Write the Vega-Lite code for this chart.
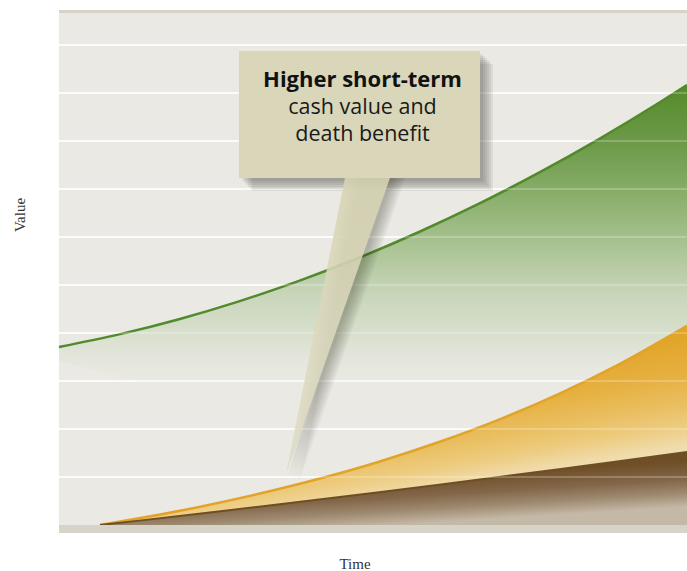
{
"$schema": "https://vega.github.io/schema/vega-lite/v6.json",
"width": 628, "height": 523,
"autosize": {"type": "none"},
"padding": {"left": 59, "top": 10, "right": 0, "bottom": 38},
"background": "white",
"config": {"view": {"fill": "#eae9e4", "stroke": null}},
"datasets": {
"green": [
{"t":0,"v":3.708,"low":3.417},{"t":3,"v":3.971,"low":3.090},{"t":6,"v":4.288,"low":2.764},{"t":9,"v":4.660,"low":2.438},{"t":12,"v":5.085,"low":2.111},{"t":15,"v":5.567,"low":1.785},{"t":18,"v":6.104,"low":1.458},{"t":21,"v":6.694,"low":1.132},{"t":24,"v":7.340,"low":0.805},{"t":27,"v":8.040,"low":0.479},{"t":30,"v":8.796,"low":0.152},{"t":31.4,"v":9.167,"low":0}
],
"orange": [
{"t":2.05,"v":0},{"t":4,"v":0.139},{"t":7,"v":0.377},{"t":10,"v":0.650},{"t":13,"v":0.962},{"t":16,"v":1.319},{"t":19,"v":1.729},{"t":22,"v":2.196},{"t":25,"v":2.732},{"t":28,"v":3.346},{"t":31.4,"v":4.148}
],
"brown": [
{"t":2.05,"v":0},{"t":4,"v":0.091},{"t":7,"v":0.234},{"t":10,"v":0.380},{"t":13,"v":0.530},{"t":16,"v":0.683},{"t":19,"v":0.839},{"t":22,"v":0.999},{"t":25,"v":1.162},{"t":28,"v":1.328},{"t":31.4,"v":1.521}
],
"grid": [{"v":1},{"v":2},{"v":3},{"v":4},{"v":5},{"v":6},{"v":7},{"v":8},{"v":9},{"v":10}],
"box": [{"t":9.0,"t2":21.05,"v":7.229,"v2":9.875}],
"pointer": [{"v":7.4,"t":14.38,"t2":16.69},{"v":1.0625,"t":11.35,"t2":11.35}],
"title": [{"t":15.175,"v":9.125,"label":"Higher short-term"}],
"body": [{"t":15.175,"v":8.5625,"label":"cash value and"},{"t":15.175,"v":8.0,"label":"death benefit"}],
"xtitle": [{"t":14.8,"v":-0.9167,"label":"Time"}],
"ytitle": [{"t":-1.95,"v":6.458,"label":"Value"}],
"bottomband": [{"v":0,"v2":-0.1667}],
"topband": [{"v":10.729,"v2":10.667}]
},
"layer": [
{"data":{"name":"grid"},"mark":{"type":"rule","color":"#ffffff","strokeWidth":1.5},
 "encoding":{"y":{"field":"v","type":"quantitative","scale":{"domain":[-0.1667,10.729],"nice":false,"zero":false},"axis":null}}},
{"data":{"name":"green"},
 "mark":{"type":"area","interpolate":"monotone","fill":{"gradient":"linear","x1":0,"y1":0,"x2":0,"y2":1,"stops":[{"offset":0,"color":"#558a2b"},{"offset":0.14,"color":"#6e9b4a"},{"offset":0.26,"color":"#8cb06e"},{"offset":0.37,"color":"#abc495"},{"offset":0.48,"color":"#c9d6bb"},{"offset":0.58,"color":"#dbe1d0"},{"offset":0.7,"color":"rgba(234,233,228,0)"},{"offset":1,"color":"rgba(234,233,228,0)"}]}},
 "encoding":{
  "x":{"field":"t","type":"quantitative","scale":{"domain":[0,31.4],"nice":false,"zero":false},"axis":null},
  "y":{"field":"v","type":"quantitative","scale":{"domain":[-0.1667,10.729],"nice":false,"zero":false},"axis":null},
  "y2":{"field":"low"}}},
{"data":{"name":"green"},"mark":{"type":"line","interpolate":"monotone","color":"#528a2b","strokeWidth":2.5},
 "encoding":{"x":{"field":"t","type":"quantitative","axis":null},"y":{"field":"v","type":"quantitative","axis":null}}},
{"data":{"name":"orange"},
 "mark":{"type":"area","interpolate":"monotone","fill":{"gradient":"linear","x1":0,"y1":0,"x2":0.5,"y2":1,"stops":[{"offset":0,"color":"#e1a226"},{"offset":0.45,"color":"#e2a52b"},{"offset":0.6,"color":"#e6b142"},{"offset":0.72,"color":"#eac064"},{"offset":0.8,"color":"#edcc80"},{"offset":0.87,"color":"#f0daa8"},{"offset":1,"color":"#efe8d8"}]}},
 "encoding":{"x":{"field":"t","type":"quantitative","axis":null},"y":{"field":"v","type":"quantitative","axis":null},"y2":{"datum":0}}},
{"data":{"name":"orange"},"mark":{"type":"line","interpolate":"monotone","color":"#e2a428","strokeWidth":2.5},
 "encoding":{"x":{"field":"t","type":"quantitative","axis":null},"y":{"field":"v","type":"quantitative","axis":null}}},
{"data":{"name":"brown"},
 "mark":{"type":"area","interpolate":"monotone","fill":{"gradient":"linear","x1":0,"y1":0,"x2":0.5,"y2":1,"stops":[{"offset":0,"color":"#6a4b21"},{"offset":0.5,"color":"#6e4f27"},{"offset":0.7,"color":"#84674a"},{"offset":0.85,"color":"#9e8a70"},{"offset":1,"color":"#c4b8a6"}]}},
 "encoding":{"x":{"field":"t","type":"quantitative","axis":null},"y":{"field":"v","type":"quantitative","axis":null},"y2":{"datum":0}}},
{"data":{"name":"brown"},"mark":{"type":"line","interpolate":"monotone","color":"#6e4e23","strokeWidth":2},
 "encoding":{"x":{"field":"t","type":"quantitative","axis":null},"y":{"field":"v","type":"quantitative","axis":null}}},
{"data":{"name":"grid"},"mark":{"type":"rule","color":"#ffffff","strokeWidth":1.5,"opacity":0.3},
 "encoding":{"y":{"field":"v","type":"quantitative","axis":null}}},
{"data":{"name":"box"},"mark":{"type":"rect","color":"#2e2e28","opacity":0.08,"xOffset":3,"x2Offset":3,"yOffset":3,"y2Offset":3},
 "encoding":{"x":{"field":"t","type":"quantitative","axis":null},"x2":{"field":"t2"},"y":{"field":"v","type":"quantitative","axis":null},"y2":{"field":"v2"}}},
{"data":{"name":"box"},"mark":{"type":"rect","color":"#2e2e28","opacity":0.08,"xOffset":5,"x2Offset":5,"yOffset":5,"y2Offset":5},
 "encoding":{"x":{"field":"t","type":"quantitative","axis":null},"x2":{"field":"t2"},"y":{"field":"v","type":"quantitative","axis":null},"y2":{"field":"v2"}}},
{"data":{"name":"box"},"mark":{"type":"rect","color":"#2e2e28","opacity":0.08,"xOffset":7,"x2Offset":7,"yOffset":7,"y2Offset":7},
 "encoding":{"x":{"field":"t","type":"quantitative","axis":null},"x2":{"field":"t2"},"y":{"field":"v","type":"quantitative","axis":null},"y2":{"field":"v2"}}},
{"data":{"name":"box"},"mark":{"type":"rect","color":"#2e2e28","opacity":0.08,"xOffset":9,"x2Offset":9,"yOffset":9,"y2Offset":9},
 "encoding":{"x":{"field":"t","type":"quantitative","axis":null},"x2":{"field":"t2"},"y":{"field":"v","type":"quantitative","axis":null},"y2":{"field":"v2"}}},
{"data":{"name":"box"},"mark":{"type":"rect","color":"#2e2e28","opacity":0.08,"xOffset":11,"x2Offset":11,"yOffset":11,"y2Offset":11},
 "encoding":{"x":{"field":"t","type":"quantitative","axis":null},"x2":{"field":"t2"},"y":{"field":"v","type":"quantitative","axis":null},"y2":{"field":"v2"}}},
{"data":{"name":"box"},"mark":{"type":"rect","color":"#2e2e28","opacity":0.08,"xOffset":13,"x2Offset":13,"yOffset":13,"y2Offset":13},
 "encoding":{"x":{"field":"t","type":"quantitative","axis":null},"x2":{"field":"t2"},"y":{"field":"v","type":"quantitative","axis":null},"y2":{"field":"v2"}}},
{"data":{"name":"pointer"},"mark":{"type":"area","orient":"horizontal","color":"#2e2e28","opacity":0.06,"xOffset":3,"x2Offset":3,"yOffset":2},
 "encoding":{"y":{"field":"v","type":"quantitative","axis":null},"x":{"field":"t","type":"quantitative","axis":null},"x2":{"field":"t2"}}},
{"data":{"name":"pointer"},"mark":{"type":"area","orient":"horizontal","color":"#2e2e28","opacity":0.06,"xOffset":5,"x2Offset":5,"yOffset":3},
 "encoding":{"y":{"field":"v","type":"quantitative","axis":null},"x":{"field":"t","type":"quantitative","axis":null},"x2":{"field":"t2"}}},
{"data":{"name":"pointer"},"mark":{"type":"area","orient":"horizontal","color":"#2e2e28","opacity":0.06,"xOffset":7,"x2Offset":7,"yOffset":4},
 "encoding":{"y":{"field":"v","type":"quantitative","axis":null},"x":{"field":"t","type":"quantitative","axis":null},"x2":{"field":"t2"}}},
{"data":{"name":"pointer"},"mark":{"type":"area","orient":"horizontal","color":"#2e2e28","opacity":0.06,"xOffset":9,"x2Offset":9,"yOffset":5},
 "encoding":{"y":{"field":"v","type":"quantitative","axis":null},"x":{"field":"t","type":"quantitative","axis":null},"x2":{"field":"t2"}}},
{"data":{"name":"pointer"},"mark":{"type":"area","orient":"horizontal","color":"#2e2e28","opacity":0.06,"xOffset":11,"x2Offset":11,"yOffset":6},
 "encoding":{"y":{"field":"v","type":"quantitative","axis":null},"x":{"field":"t","type":"quantitative","axis":null},"x2":{"field":"t2"}}},
{"data":{"name":"pointer"},"mark":{"type":"area","orient":"horizontal","color":"#2e2e28","opacity":0.06,"xOffset":13,"x2Offset":13,"yOffset":7},
 "encoding":{"y":{"field":"v","type":"quantitative","axis":null},"x":{"field":"t","type":"quantitative","axis":null},"x2":{"field":"t2"}}},
{"data":{"name":"pointer"},"mark":{"type":"area","orient":"horizontal","opacity":0.88,"fill":{"gradient":"linear","x1":0,"y1":0,"x2":0,"y2":1,"stops":[{"offset":0,"color":"#d7d4b3"},{"offset":1,"color":"#dfdcc6"}]}},
 "encoding":{"y":{"field":"v","type":"quantitative","axis":null},"x":{"field":"t","type":"quantitative","axis":null},"x2":{"field":"t2"}}},
{"data":{"name":"box"},"mark":{"type":"rect","color":"#d9d6b9","opacity":1},
 "encoding":{"x":{"field":"t","type":"quantitative","axis":null},"x2":{"field":"t2"},"y":{"field":"v","type":"quantitative","axis":null},"y2":{"field":"v2"}}},
{"data":{"name":"title"},"mark":{"type":"text","font":"Open Sans","fontSize":22,"fontWeight":"bold","color":"#111111","align":"center","baseline":"alphabetic"},
 "encoding":{"x":{"field":"t","type":"quantitative","axis":null},"y":{"field":"v","type":"quantitative","axis":null},"text":{"field":"label"}}},
{"data":{"name":"body"},"mark":{"type":"text","font":"Open Sans","fontSize":21.5,"fontWeight":"normal","color":"#1a1a1a","align":"center","baseline":"alphabetic"},
 "encoding":{"x":{"field":"t","type":"quantitative","axis":null},"y":{"field":"v","type":"quantitative","axis":null},"text":{"field":"label"}}},
{"data":{"name":"xtitle"},"mark":{"type":"text","font":"Liberation Serif","fontSize":15,"color":"#333333","align":"center","baseline":"alphabetic"},
 "encoding":{"x":{"field":"t","type":"quantitative","axis":null},"y":{"field":"v","type":"quantitative","axis":null},"text":{"field":"label"}}},
{"data":{"name":"ytitle"},"mark":{"type":"text","font":"Liberation Serif","fontSize":15,"color":"#333333","align":"center","baseline":"middle","angle":270},
 "encoding":{"x":{"field":"t","type":"quantitative","axis":null},"y":{"field":"v","type":"quantitative","axis":null},"text":{"field":"label"}}},
{"data":{"name":"bottomband"},"mark":{"type":"rect","color":"#d6d4c9"},
 "encoding":{"y":{"field":"v","type":"quantitative","axis":null},"y2":{"field":"v2"}}},
{"data":{"name":"topband"},"mark":{"type":"rect","color":"#d6d4c8"},
 "encoding":{"y":{"field":"v","type":"quantitative","axis":null},"y2":{"field":"v2"}}}
]
}
